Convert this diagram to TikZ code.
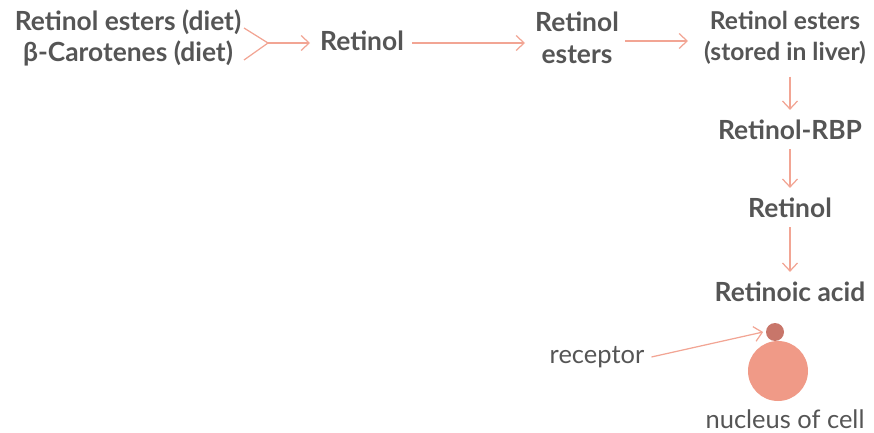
\documentclass[tikz,border=0pt]{standalone}
\usepackage{fontspec}
\setmainfont{Lato}
\usepackage{tikz}
\usetikzlibrary{positioning, arrows.meta}
\definecolor{labelgray}{HTML}{555555}
\definecolor{pastelsalmon}{HTML}{F2A594}
\definecolor{receptorred}{HTML}{C8766A}
\definecolor{nucleuspink}{HTML}{F09A87}

\begin{document}
\begin{tikzpicture}[
		every node/.style={text=labelgray, font=\fontsize{15}{18.5}\selectfont\bfseries},
		plain/.style={font=\fontsize{14.5}{18}\selectfont},
		conv/.style={draw=pastelsalmon, line width=0.7pt, -{Straight Barb[length=1.6mm, width=3mm]}}
	]
				\useasboundingbox (0,0) rectangle (17.48,-8.66);
				%% dietary sources
				\node (diet1) at (2.56,-0.44) {Retinol esters (diet)};
				\node (diet2) at (2.56,-1.07) {β-Carotenes (diet)};
				\coordinate (forkup) at (4.88,-0.56);
				\coordinate (forkdown) at (4.88,-1.20);
				\coordinate (forktip) at (5.36,-0.86);
				\draw [pastelsalmon, line width=0.7pt] (forkup) -- (forktip) -- (forkdown);

				%% top row
				\node (retinolA) at (7.24,-0.82) {Retinol};
				\node[align=center] (esters) at (11.54,-0.76) {Retinol\\esters};
				\node[align=center, font=\fontsize{14}{17.5}\selectfont\bfseries] (liver) at (15.7,-0.76) {Retinol esters\\(stored in liver)};
				\draw [conv] (forktip) -- (6.2,-0.86);
				\draw [conv] (8.24,-0.86) -- (10.5,-0.86);
				\draw [conv] (12.5,-0.82) -- (13.76,-0.82);

				%% down the column
				\node (rbp) at (15.8,-2.6) {Retinol-RBP};
				\node (retinolB) at (15.8,-4.16) {Retinol};
				\node (acid) at (15.8,-5.84) {Retinoic acid};
				\draw [conv] ([yshift=-0.12cm]liver.south -| rbp) -- ([yshift=0.08cm]rbp.north);
				\draw [conv] ([yshift=-0.06cm]rbp.south) -- ([yshift=0.08cm]retinolB.north);
				\draw [conv] ([yshift=-0.06cm]retinolB.south) -- ([yshift=0.08cm]acid.north);

				%% cell
				\node[circle, fill=nucleuspink, minimum size=1.2cm, inner sep=0pt] (nucleus) at (15.56,-7.42) {};
				\node[circle, fill=receptorred, minimum size=0.36cm, inner sep=0pt] (receptor) at (15.5,-6.64) {};
				\node[plain] (receptorlabel) at (11.94,-7.14) {receptor};
				\node[plain] (nucleuslabel) at (15.7,-8.38) {nucleus of cell};
				\draw [conv] ([xshift=0.02cm]receptorlabel.east) -- ([xshift=-0.05cm]receptor.west);
				\end{tikzpicture}
\end{document}
